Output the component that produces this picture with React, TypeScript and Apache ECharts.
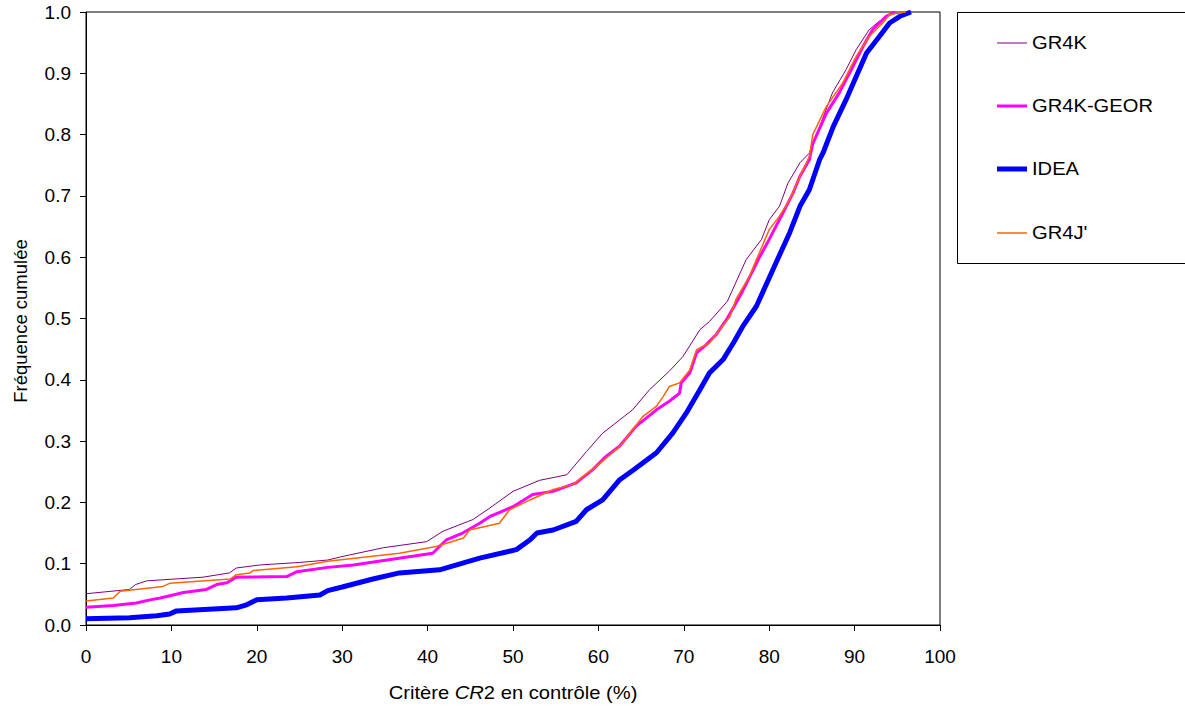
import React, { useEffect, useRef } from "react";
import * as echarts from "echarts";

const seriesNames = ["GR4K", "GR4K-GEOR", "IDEA", "GR4J'"];

const xGR4K = [0, 5.1, 5.8, 7.1, 13.7, 16.8, 17.6, 20.4, 25, 28.3, 30.1, 34.8, 39.9, 41.8, 45.3, 47.3, 50, 53.1, 56.3, 58.6, 60.5, 64, 66, 68.3, 69.9, 71.9, 73, 75.1, 77.3, 79.1, 80, 81.2, 82.2, 83.6, 84.7, 85.9, 87.4, 89, 90.2, 91.7, 92.9, 94.5];
const yGR4K = [0.051, 0.058, 0.066, 0.072, 0.078, 0.085, 0.093, 0.098, 0.102, 0.106, 0.112, 0.126, 0.136, 0.153, 0.172, 0.191, 0.218, 0.236, 0.245, 0.283, 0.313, 0.351, 0.384, 0.414, 0.438, 0.482, 0.495, 0.528, 0.596, 0.629, 0.661, 0.683, 0.721, 0.754, 0.77, 0.813, 0.868, 0.906, 0.939, 0.971, 0.985, 1.0];

const xGEOR = [0, 3.2, 5.9, 7.5, 8.7, 10.2, 11.4, 14.1, 15.3, 16.5, 17.6, 23.5, 24.7, 28.3, 31.3, 40.6, 41.4, 42.2, 44.1, 46.1, 47.3, 50, 52.3, 54.7, 57.4, 59.3, 60.9, 62.5, 64.4, 66.8, 68.3, 69.5, 69.7, 70.7, 71.5, 72.6, 73.8, 75, 76.1, 76.9, 78.9, 80, 81.6, 82.8, 83.6, 84.7, 85.1, 86.7, 88.2, 89.8, 91, 92.1, 93.7, 94.7];
const yGEOR = [0.029, 0.032, 0.036, 0.041, 0.044, 0.049, 0.053, 0.058, 0.066, 0.069, 0.078, 0.079, 0.087, 0.094, 0.098, 0.117, 0.128, 0.139, 0.15, 0.166, 0.177, 0.193, 0.213, 0.218, 0.232, 0.253, 0.275, 0.292, 0.324, 0.351, 0.365, 0.378, 0.395, 0.411, 0.444, 0.457, 0.474, 0.498, 0.525, 0.545, 0.601, 0.629, 0.672, 0.705, 0.732, 0.759, 0.785, 0.835, 0.868, 0.911, 0.944, 0.971, 0.993, 1.0];

const xIDEA = [0, 5.1, 8.3, 9.8, 10.6, 17.6, 18.8, 20, 23.5, 27.4, 28.3, 30, 33.6, 36.7, 41.4, 46.1, 50.4, 52, 52.8, 54.7, 57.4, 58.6, 60.5, 62.5, 64.1, 66.8, 68.7, 70.3, 71.9, 73, 74.6, 75.8, 76.9, 78.5, 80.8, 82.4, 83.6, 84.7, 85.9, 86.3, 87.5, 89, 90.2, 91.4, 92.9, 94.1, 95.3, 96.6];
const yIDEA = [0.01, 0.012, 0.015, 0.018, 0.023, 0.028, 0.033, 0.041, 0.044, 0.049, 0.056, 0.062, 0.075, 0.085, 0.09, 0.109, 0.123, 0.139, 0.15, 0.155, 0.169, 0.188, 0.204, 0.237, 0.253, 0.281, 0.313, 0.346, 0.384, 0.411, 0.433, 0.46, 0.487, 0.52, 0.591, 0.64, 0.683, 0.71, 0.759, 0.77, 0.813, 0.857, 0.895, 0.933, 0.96, 0.982, 0.993, 1.0];

const xGR4J = [0, 3.2, 4, 9, 9.8, 16.9, 17.6, 19.2, 19.6, 24.7, 28.3, 36.7, 41, 44.2, 44.9, 48.4, 49.6, 52, 54.7, 57, 60.2, 62.5, 65.2, 66.8, 67.6, 68.3, 69.5, 70.7, 71.5, 73, 74.2, 75.4, 76.1, 77.7, 78.5, 80, 81.2, 82.4, 83.6, 84.7, 85.1, 86.7, 88.6, 90.2, 91.7, 93.3, 94.1, 96];
const yGR4J = [0.039, 0.044, 0.055, 0.063, 0.068, 0.075, 0.082, 0.085, 0.089, 0.095, 0.104, 0.117, 0.128, 0.142, 0.155, 0.166, 0.188, 0.204, 0.221, 0.229, 0.264, 0.291, 0.34, 0.357, 0.373, 0.389, 0.395, 0.416, 0.449, 0.46, 0.482, 0.503, 0.531, 0.569, 0.596, 0.645, 0.667, 0.694, 0.732, 0.764, 0.8, 0.846, 0.884, 0.928, 0.96, 0.982, 0.996, 1.0];

const colors = ["#800080", "#FF00FF", "#0000FF", "#FF6600"];
const widths = [1, 3, 5, 1.5];

const FONT = "'Liberation Sans', Arial, sans-serif";
const SX = 1.12;

function zip(xs: number[], ys: number[]) {
  return xs.map((x, i) => [x, ys[i]]);
}

export default function App() {
  const ref = useRef<HTMLDivElement>(null);
  useEffect(() => {
    document.body.style.margin = "0";
    const chart = echarts.init(ref.current!, null, { renderer: "svg" });
    const datasets = [zip(xGR4K, yGR4K), zip(xGEOR, yGEOR), zip(xIDEA, yIDEA), zip(xGR4J, yGR4J)];
    const legendY = [43, 106, 169, 233];
    const legendGraphics: any[] = [
      {
        type: "rect",
        shape: { x: 957.5, y: 12.5, width: 240, height: 251 },
        style: { fill: "#fff", stroke: "#000", lineWidth: 1 },
      },
    ];
    seriesNames.forEach((n, i) => {
      legendGraphics.push({
        type: "line",
        shape: { x1: 997, y1: legendY[i], x2: 1027, y2: legendY[i] },
        style: { stroke: colors[i], lineWidth: widths[i] },
      });
      legendGraphics.push({
        type: "text",
        x: 1032,
        y: legendY[i],
        scaleX: SX,
        style: { text: n, font: `18px ${FONT}`, fill: "#000", textVerticalAlign: "middle", textAlign: "left" },
      });
    });
    chart.setOption({
      animation: false,
      backgroundColor: "#fff",
      textStyle: { fontFamily: FONT },
      grid: { left: 86, top: 12, right: 245, bottom: 84, show: true, borderColor: "#000", borderWidth: 1 },
      xAxis: {
        type: "value",
        min: 0,
        max: 100,
        interval: 10,
        axisLine: { show: true, lineStyle: { color: "#000", width: 1 } },
        axisTick: { show: true, inside: false, length: 6, lineStyle: { color: "#000" } },
        axisLabel: { color: "#000", fontSize: 19, fontFamily: FONT, margin: 22 },
        splitLine: { show: false },
      },
      yAxis: {
        type: "value",
        min: 0,
        max: 1,
        interval: 0.1,
        axisLine: { show: true, lineStyle: { color: "#000", width: 1 } },
        axisTick: { show: true, inside: false, length: 6, lineStyle: { color: "#000" } },
        axisLabel: { color: "#000", fontSize: 19, fontFamily: FONT, margin: 15, formatter: (v: number) => v.toFixed(1) },
        splitLine: { show: false },
      },
      series: seriesNames.map((n, i) => ({
        name: n,
        type: "line",
        data: datasets[i],
        showSymbol: false,
        symbol: "none",
        lineStyle: { color: colors[i], width: widths[i] },
        itemStyle: { color: colors[i] },
        z: 2 + i,
      })),
      graphic: [
        ...legendGraphics,
        {
          type: "text",
          x: 513,
          y: 693,
          scaleX: SX,
          style: {
            text: "Critère {i|CR}2 en contrôle (%)",
            font: `18px ${FONT}`,
            fill: "#000",
            textAlign: "center",
            textVerticalAlign: "middle",
            rich: { i: { fontStyle: "italic", fontSize: 18, fontFamily: FONT } },
          },
        },
        {
          type: "text",
          x: 20,
          y: 321,
          rotation: Math.PI / 2,
          style: {
            text: "Fréquence cumulée",
            font: `18.5px ${FONT}`,
            fill: "#000",
            textAlign: "center",
            textVerticalAlign: "middle",
          },
        },
      ],
    });
    return () => chart.dispose();
  }, []);
  return <div ref={ref} style={{ width: 1185, height: 709 }} />;
}
